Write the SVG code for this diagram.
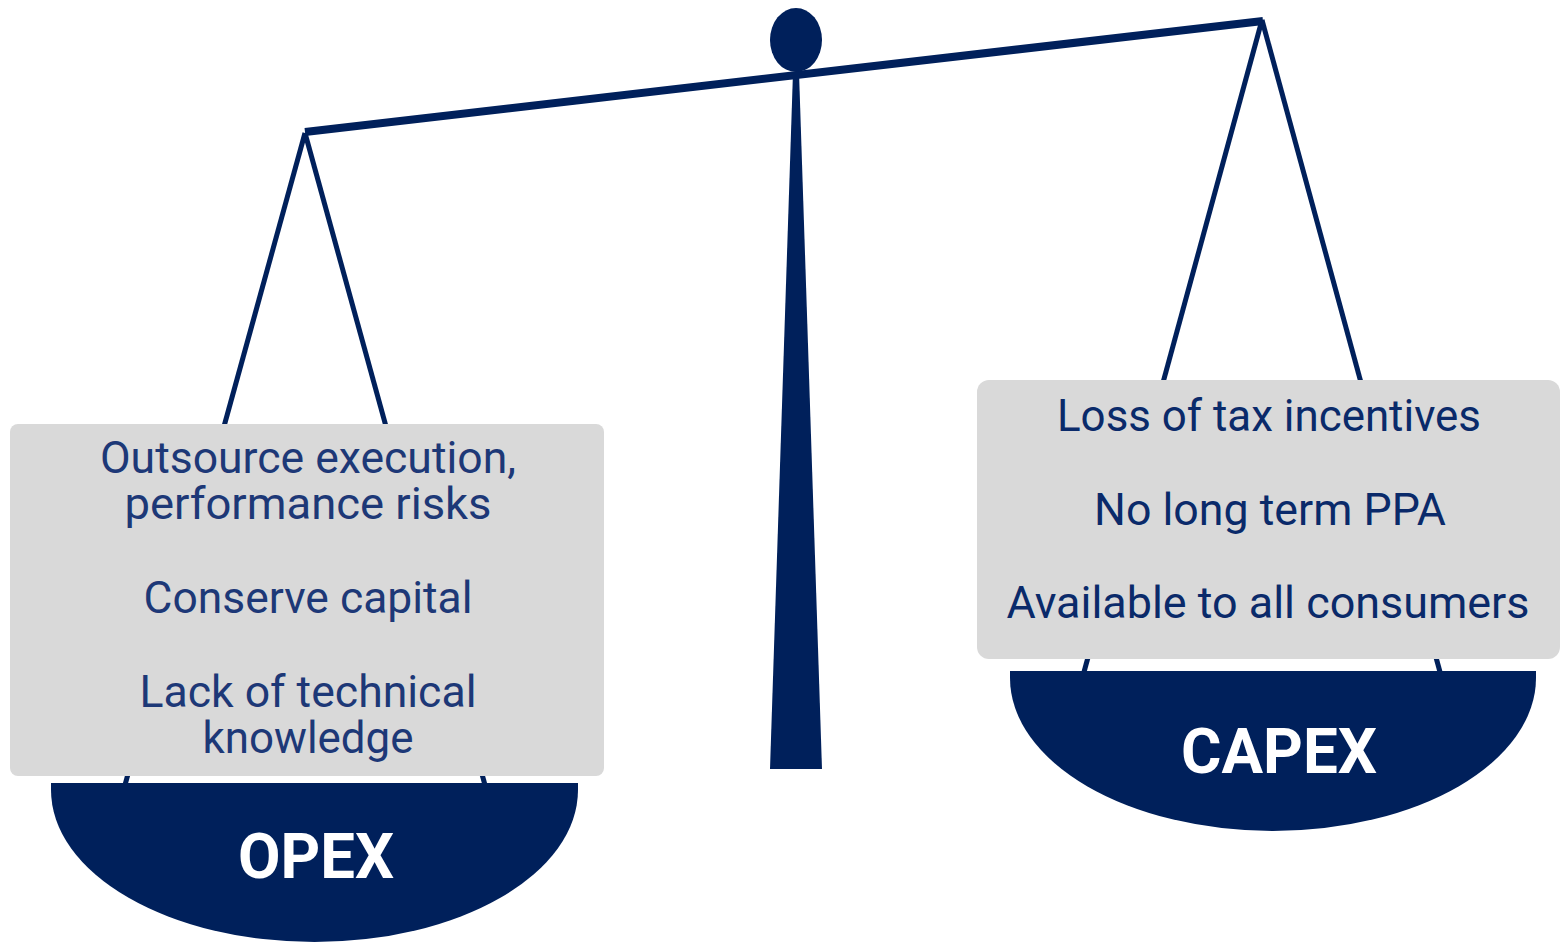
<svg xmlns="http://www.w3.org/2000/svg" width="1561" height="943" viewBox="0 0 1561 943">
  <style>
    .navy { fill: #00205b; }
    .string { stroke: #00205b; stroke-width: 5; fill: none; }
    .box { fill: #d9d9d9; }
    .item { font-family: Roboto, "Liberation Sans", sans-serif; font-size: 44px; text-anchor: middle; }
    .left-item { fill: #1d3877; }
    .right-item { fill: #0a2a6a; }
    .pan-label { font-family: Roboto, "Liberation Sans", sans-serif; font-size: 63px; font-weight: bold; fill: #ffffff; text-anchor: middle; }
  </style>

  <!-- beam, strings and stand -->
  <g id="connectors">
    <line class="string" x1="305" y1="133" x2="125" y2="785"/>
    <line class="string" x1="305" y1="133" x2="485" y2="785"/>
    <line class="string" x1="1262" y1="20" x2="1084" y2="672"/>
    <line class="string" x1="1262" y1="20" x2="1440" y2="672"/>
    <line x1="305" y1="132" x2="1263" y2="21" stroke="#00205b" stroke-width="8"/>
  </g>

  <g id="stand">
    <polygon class="navy" points="793,72 799,72 822,769 770,769"/>
    <ellipse class="navy" cx="796" cy="40" rx="26" ry="32"/>
  </g>

  <!-- left pan -->
  <g id="opex">
    <path class="navy" d="M51,783 L578,783 L578,790 A263.5,152 0 0 1 51,790 Z"/>
    <text class="pan-label" x="316" y="878" textLength="156" lengthAdjust="spacingAndGlyphs">OPEX</text>
  </g>

  <g id="opex-reasons">
    <rect class="box" x="10" y="424" width="594" height="352" rx="8"/>
    <text class="item left-item" x="308" y="473" textLength="416" lengthAdjust="spacingAndGlyphs">Outsource execution,</text>
    <text class="item left-item" x="308" y="519" textLength="367" lengthAdjust="spacingAndGlyphs">performance risks</text>
    <text class="item left-item" x="308" y="613" textLength="329" lengthAdjust="spacingAndGlyphs">Conserve capital</text>
    <text class="item left-item" x="308" y="707" textLength="337" lengthAdjust="spacingAndGlyphs">Lack of technical</text>
    <text class="item left-item" x="308" y="753" textLength="211" lengthAdjust="spacingAndGlyphs">knowledge</text>
  </g>

  <!-- right pan -->
  <g id="capex">
    <path class="navy" d="M1010,671 L1536,671 L1536,678 A263,153 0 0 1 1010,678 Z"/>
    <text class="pan-label" x="1279" y="773" textLength="196" lengthAdjust="spacingAndGlyphs">CAPEX</text>
  </g>

  <g id="capex-reasons">
    <rect class="box" x="977" y="380" width="583" height="279" rx="12"/>
    <text class="item right-item" x="1269" y="431" textLength="424" lengthAdjust="spacingAndGlyphs">Loss of tax incentives</text>
    <text class="item right-item" x="1270" y="525" textLength="352" lengthAdjust="spacingAndGlyphs">No long term PPA</text>
    <text class="item right-item" x="1268" y="618" textLength="523" lengthAdjust="spacingAndGlyphs">Available to all consumers</text>
  </g>
</svg>
